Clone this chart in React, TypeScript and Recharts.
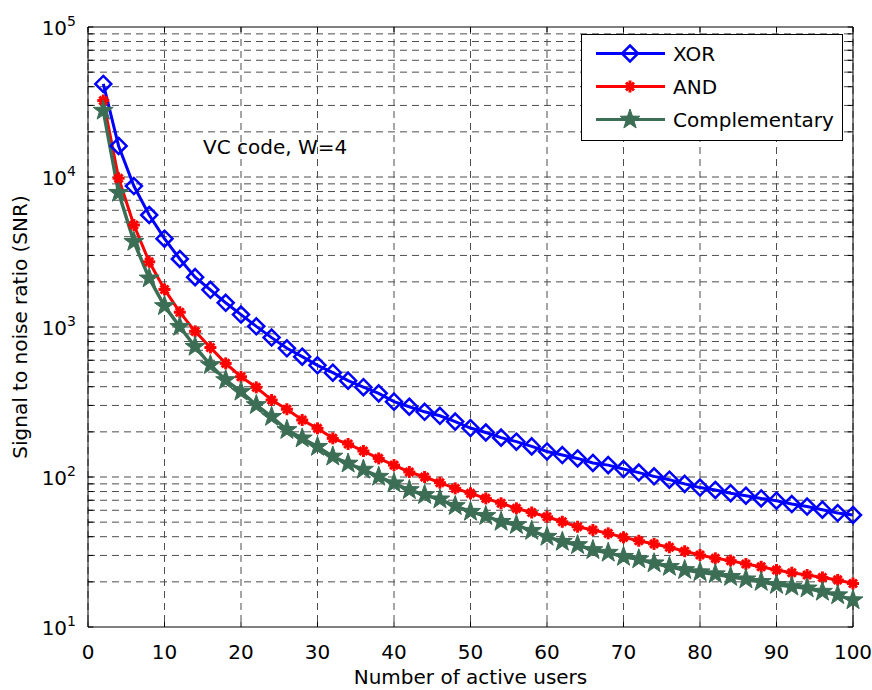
import React from 'react';
import { LineChart, Line, XAxis, YAxis, CartesianGrid, ReferenceLine, Legend } from 'recharts';

// number of active users (x)
const users = [
  2, 4, 6, 8, 10, 12, 14, 16, 18, 20, 22, 24, 26, 28, 30, 32, 34, 36, 38, 40, 42, 44, 46, 48, 50,
  52, 54, 56, 58, 60, 62, 64, 66, 68, 70, 72, 74, 76, 78, 80, 82, 84, 86, 88, 90, 92, 94, 96, 98, 100,
];

// SNR values
const xorSnr = [
  41700, 16100, 8700, 5580, 3880, 2840, 2150, 1770, 1450, 1210, 1010, 850, 721, 634, 555, 496, 439, 397, 361, 318,
  294, 272, 256, 234, 212, 198, 183, 172, 160, 148, 140, 133, 124, 120, 113, 107, 101, 96, 90, 85,
  82, 78, 75, 72, 69.5, 66, 63.5, 60.5, 57.5, 55.8,
];
const andSnr = [
  32300, 9800, 4790, 2720, 1780, 1255, 935, 730, 572, 466, 396, 326, 283, 240, 211, 181, 166, 149, 133, 120,
  108, 100, 91.6, 84, 77.8, 72, 66.8, 61.8, 58, 54.3, 50.3, 46.6, 44.3, 42.1, 39.6, 37.6, 35.8, 34, 32, 30.2,
  28.7, 27.7, 26.3, 25.2, 24, 23, 22.2, 21.4, 20.6, 19.5,
];
const compSnr = [
  27700, 7850, 3700, 2110, 1380, 1004, 739, 558, 443, 371, 302, 252, 206, 181, 159, 137, 123, 112, 100.5, 90.8,
  81.9, 75.9, 71, 64.1, 58.7, 55, 50.3, 47.9, 43.8, 40, 37, 35.2, 32.6, 31.3, 29.4, 28.3, 26.6, 25.2, 24, 23.2,
  22.5, 21.6, 20.8, 20, 19.1, 18.6, 18.1, 17.2, 16.3, 15.1,
];

const seriesNames = ['XOR', 'AND', 'Complementary'];
const xTicks = [0, 10, 20, 30, 40, 50, 60, 70, 80, 90, 100];
const yTicks = [10, 100, 1000, 10000, 100000];
const yExp = ['1', '2', '3', '4', '5'];

const data = users.map((u, i) => ({ users: u, xor: xorSnr[i], and: andSnr[i], comp: compSnr[i] }));

// minor log gridlines 2..9 x each decade
const yMinor: number[] = [];
yTicks.slice(0, -1).forEach((d) => {
  for (let k = 2; k <= 9; k++) yMinor.push(d * k);
});
const yGrid = [...yTicks.slice(1, -1), ...yMinor];
const yAllTicks = [...yTicks, ...yMinor];

const FONT = 'DejaVu Sans';
const BLUE = '#0000ff';
const RED = '#ff0000';
const GREEN = '#3b6e55';
const GRID = '#4d4d4d';

const starPath = (cx: number, cy: number, R: number, r: number) => {
  let d = '';
  for (let i = 0; i < 10; i++) {
    const a = -Math.PI / 2 + (i * Math.PI) / 5;
    const rad = i % 2 === 0 ? R : r;
    d += (i === 0 ? 'M' : 'L') + (cx + rad * Math.cos(a)).toFixed(2) + ',' + (cy + rad * Math.sin(a)).toFixed(2);
  }
  return d + 'Z';
};

const Diamond = ({ cx, cy }: { cx: number; cy: number }) => (
  <path d={`M${cx},${cy - 8}L${cx + 8},${cy}L${cx},${cy + 8}L${cx - 8},${cy}Z`} fill="none" stroke={BLUE} strokeWidth={2.5} />
);
const Asterisk = ({ cx, cy }: { cx: number; cy: number }) => (
  <g stroke={RED} strokeWidth={3}>
    <line x1={cx - 6} y1={cy} x2={cx + 6} y2={cy} />
    <line x1={cx} y1={cy - 6} x2={cx} y2={cy + 6} />
    <line x1={cx - 4} y1={cy - 4} x2={cx + 4} y2={cy + 4} />
    <line x1={cx - 4} y1={cy + 4} x2={cx + 4} y2={cy - 4} />
  </g>
);
const Star = ({ cx, cy }: { cx: number; cy: number }) => <path d={starPath(cx, cy, 10.5, 4.2)} fill={GREEN} stroke={GREEN} strokeWidth={1} />;

const markers: Record<string, (p: { cx: number; cy: number }) => React.ReactElement> = {
  XOR: Diamond,
  AND: Asterisk,
  Complementary: Star,
};

const dotFor = (name: string) => (props: any) => {
  const { cx, cy, index } = props;
  if (cx == null || cy == null) return <g key={`${name}-${index}`} />;
  const M = markers[name];
  return <g key={`${name}-${index}`}><M cx={cx} cy={cy} /></g>;
};

const YTick = (props: any) => {
  const { x, y, payload } = props;
  const i = yTicks.indexOf(payload.value);
  return (
    <text x={x - 10} y={y + 8} textAnchor="end" fontFamily={FONT} fontSize={20} fill="#000">
      10
      <tspan dy={-9} fontSize={14}>{yExp[i]}</tspan>
    </text>
  );
};

const XTick = (props: any) => {
  const { x, y, payload } = props;
  return (
    <text x={x} y={y + 30} textAnchor="middle" fontFamily={FONT} fontSize={20} fill="#000">
      {payload.value}
    </text>
  );
};

const LegendBox = (props: any) => {
  const payload = [...(props.payload || [])].sort(
    (a: any, b: any) => seriesNames.indexOf(a.value) - seriesNames.indexOf(b.value),
  );
  return (
    <svg width={262} height={107} style={{ display: 'block' }}>
      <rect x={0.5} y={0.5} width={261} height={106} fill="#fff" stroke="#000" strokeWidth={1} />
      {payload.map((p: any, i: number) => {
        const cy = 19.5 + i * 33;
        const M = markers[p.value];
        return (
          <g key={p.value}>
            <line x1={15} y1={cy} x2={84} y2={cy} stroke={p.color} strokeWidth={3} />
            <M cx={49} cy={cy} />
            <text x={92} y={cy + 7} fontFamily={FONT} fontSize={20} fill="#000">
              {p.value}
            </text>
          </g>
        );
      })}
    </svg>
  );
};

export default function App() {
  return (
    <div style={{ position: 'absolute', left: 0, top: 0, width: 872, height: 690, background: '#fff' }}>
      <LineChart width={872} height={690} data={data} margin={{ top: 27, right: 19, left: 0, bottom: 0 }}>
        <CartesianGrid horizontal={false} stroke={GRID} strokeDasharray="7 5" />
        <XAxis
          dataKey="users"
          type="number"
          domain={[0, 100]}
          ticks={xTicks}
          height={63}
          tickSize={0}
          tickLine={false}
          axisLine={{ stroke: '#000', strokeWidth: 1 }}
          tick={<XTick />}
          label={{
            content: (p: any) => {
              const vb = p.viewBox;
              return (
                <text x={vb.x + vb.width / 2} y={vb.y + 57} textAnchor="middle" fontFamily={FONT} fontSize={20} fill="#000">
                  Number of active users
                </text>
              );
            },
          }}
        />
        <YAxis
          type="number"
          scale="log"
          domain={[10, 100000]}
          ticks={yTicks}
          width={88}
          tickSize={0}
          tickLine={false}
          allowDataOverflow
          axisLine={{ stroke: '#000', strokeWidth: 1 }}
          tick={<YTick />}
          label={{
            content: (p: any) => {
              const vb = p.viewBox;
              const cx = vb.x + 27;
              const cy = vb.y + vb.height / 2;
              return (
                <text x={cx} y={cy} transform={`rotate(-90 ${cx} ${cy})`} textAnchor="middle" fontFamily={FONT} fontSize={20} fill="#000">
                  Signal to noise ratio (SNR)
                </text>
              );
            },
          }}
        />
        {yGrid.map((v) => (
          <ReferenceLine key={`g${v}`} y={v} stroke={GRID} strokeDasharray="7 5" />
        ))}
        {yAllTicks.map((v) => (
          <ReferenceLine key={`tl${v}`} segment={[{ x: 0, y: v }, { x: 0.7, y: v }]} stroke="#000" />
        ))}
        {yAllTicks.map((v) => (
          <ReferenceLine key={`tr${v}`} segment={[{ x: 99.3, y: v }, { x: 100, y: v }]} stroke="#000" />
        ))}
        {xTicks.map((t) => (
          <ReferenceLine key={`xb${t}`} segment={[{ x: t, y: 10 }, { x: t, y: 10.8 }]} stroke="#000" />
        ))}
        {xTicks.map((t) => (
          <ReferenceLine key={`xt${t}`} segment={[{ x: t, y: 92500 }, { x: t, y: 100000 }]} stroke="#000" />
        ))}
        <ReferenceLine y={100000} stroke="#000" />
        <ReferenceLine x={100} stroke="#000" />
        <Line dataKey="xor" name="XOR" stroke={BLUE} strokeWidth={3} dot={dotFor('XOR')} isAnimationActive={false} />
        <Line dataKey="and" name="AND" stroke={RED} strokeWidth={3} dot={dotFor('AND')} isAnimationActive={false} />
        <Line dataKey="comp" name="Complementary" stroke={GREEN} strokeWidth={3.5} dot={dotFor('Complementary')} isAnimationActive={false} />
        <Legend
          layout="vertical"
          verticalAlign="middle"
          align="center"
          content={<LegendBox />}
          wrapperStyle={{ position: 'absolute', left: 581, top: 34, width: 262, height: 107 }}
        />
      </LineChart>
      <div
        style={{
          position: 'absolute',
          left: 203,
          top: 137,
          fontFamily: FONT,
          fontSize: 20,
          lineHeight: '20px',
          whiteSpace: 'nowrap',
          color: '#000',
        }}
      >
        VC code, W=4
      </div>
    </div>
  );
}
